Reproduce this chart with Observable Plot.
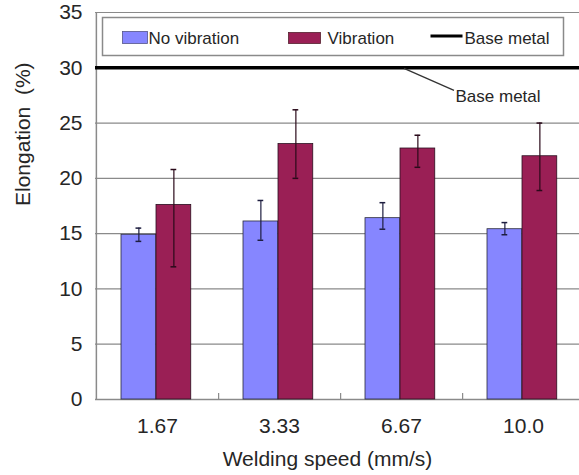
<!DOCTYPE html>
<html>
<head>
<meta charset="utf-8">
<script src="https://cdn.jsdelivr.net/npm/d3@7"></script>
<script src="https://cdn.jsdelivr.net/npm/@observablehq/plot@0.6"></script>
<style>
  html, body { margin: 0; padding: 0; background: #fff; }
  #chart svg { display: block; }
</style>
</head>
<body>
<div id="chart"></div>
<script>
const speeds = ["1.67", "3.33", "6.67", "10.0"];
const noVibration = [14.9, 16.1, 16.4, 15.4];
const noVibLow = [14.3, 14.4, 15.4, 14.9];
const noVibHigh = [15.5, 18.0, 17.8, 16.0];
const vibration = [17.6, 23.1, 22.7, 22.0];
const vibLow = [12.0, 20.0, 21.0, 18.9];
const vibHigh = [20.8, 26.2, 23.9, 25.0];
const baseMetal = 30;
const yTicks = [0, 5, 10, 15, 20, 25, 30, 35];
const seriesNames = ["No vibration", "Vibration", "Base metal"];

const blue = "#8686ff";
const maroon = "#9a1f55";

const noVibData = speeds.map((s, i) => ({speed: s, value: noVibration[i], lo: noVibLow[i], hi: noVibHigh[i]}));
const vibData = speeds.map((s, i) => ({speed: s, value: vibration[i], lo: vibLow[i], hi: vibHigh[i]}));

const W = 579, H = 475;
const bandW = (584 - 95) / 4;
const ink = "#262626";

const plot = Plot.plot({
  width: W,
  height: H,
  marginLeft: 95,
  marginRight: 0,
  marginTop: 12,
  marginBottom: 76,
  style: {fontFamily: "'Liberation Sans', Arial, sans-serif", fontSize: "16px", color: ink, background: "#fff"},
  x: {domain: speeds, range: [95, 584], padding: 0, axis: null},
  y: {domain: [0, 35], axis: null},
  marks: [
    Plot.ruleY(yTicks.filter(t => t > 0 && t !== baseMetal), {stroke: "#8a8a8a", strokeWidth: 1.2}),
    Plot.ruleX([0], {x: () => speeds[0], dx: -bandW / 2, y1: 0, y2: 35, stroke: "#8a8a8a", strokeWidth: 1.5}),
    Plot.ruleY([0], {stroke: "#8a8a8a", strokeWidth: 1.5}),
    Plot.ruleX(speeds.slice(0, 3), {x: d => d, dx: bandW / 2, y1: 0, y2: 0.55, stroke: "#8a8a8a", strokeWidth: 1.2}),
    Plot.barY(noVibData, {x: "speed", y: "value", fill: blue, stroke: "#2a2a3a", strokeWidth: 0.8, insetLeft: 25, insetRight: bandW - 60}),
    Plot.barY(vibData, {x: "speed", y: "value", fill: maroon, stroke: "#2a1020", strokeWidth: 0.8, insetLeft: 60, insetRight: bandW - 95}),
    Plot.ruleX(noVibData, {x: "speed", y1: "lo", y2: "hi", dx: 42.5 - bandW / 2, stroke: "#1e1e40", strokeWidth: 1.2}),
    Plot.ruleX(vibData, {x: "speed", y1: "lo", y2: "hi", dx: 77.5 - bandW / 2, stroke: "#2a0a1a", strokeWidth: 1.2}),
    Plot.tickY(noVibData, {x: "speed", y: "hi", insetLeft: 39.5, insetRight: bandW - 45.5, stroke: "#1e1e40", strokeWidth: 1.5}),
    Plot.tickY(noVibData, {x: "speed", y: "lo", insetLeft: 39.5, insetRight: bandW - 45.5, stroke: "#1e1e40", strokeWidth: 1.5}),
    Plot.tickY(vibData, {x: "speed", y: "hi", insetLeft: 74.5, insetRight: bandW - 80.5, stroke: "#2a0a1a", strokeWidth: 1.5}),
    Plot.tickY(vibData, {x: "speed", y: "lo", insetLeft: 74.5, insetRight: bandW - 80.5, stroke: "#2a0a1a", strokeWidth: 1.5}),
    Plot.ruleY([baseMetal], {stroke: "#000", strokeWidth: 3.5}),
    Plot.ruleY([35], {stroke: "#8a8a8a", strokeWidth: 1.2}),
    // y tick labels
    Plot.text(yTicks, {y: d => d, frameAnchor: "left", dx: -13, textAnchor: "end", text: d => String(d), fontSize: 21, fill: ink}),
    // x tick labels
    Plot.text(speeds, {x: d => d, frameAnchor: "bottom", dy: 33, text: d => d, fontSize: 21, fill: ink}),
    // axis titles
    Plot.text(["Welding speed (mm/s)"], {frameAnchor: "bottom", dx: -10, dy: 66, fontSize: 21, fill: ink}),
    Plot.text(["Elongation  (%)"], {frameAnchor: "left", dx: -72, rotate: -90, fontSize: 21, fill: ink}),
    // legend box
    Plot.frame({fill: "#fff", stroke: "#8a8a8a", strokeWidth: 1.5, insetLeft: 7, insetRight: 16, insetTop: 5, insetBottom: 344}),
    Plot.frame({fill: blue, stroke: "#55558a", strokeWidth: 0.8, insetLeft: 27, insetRight: 432, insetTop: 19, insetBottom: 356}),
    Plot.frame({fill: maroon, stroke: "#55202f", strokeWidth: 0.8, insetLeft: 193, insetRight: 259, insetTop: 20, insetBottom: 356}),
    Plot.frame({fill: "#000", insetLeft: 335, insetRight: 117, insetTop: 22, insetBottom: 362}),
    Plot.text([seriesNames[0]], {frameAnchor: "top-left", dx: 53, dy: 19, textAnchor: "start", fontSize: 17, fill: ink}),
    Plot.text([seriesNames[1]], {frameAnchor: "top-left", dx: 232, dy: 19, textAnchor: "start", fontSize: 17, fill: ink}),
    Plot.text([seriesNames[2]], {frameAnchor: "top-left", dx: 369, dy: 19, textAnchor: "start", fontSize: 17, fill: ink}),
    // annotation text
    Plot.text(["Base metal"], {frameAnchor: "top-left", dx: 360, dy: 77, textAnchor: "start", fontSize: 17, fill: ink})
  ]
});

document.getElementById("chart").appendChild(plot);

// leader line for the annotation, positioned with Plot's own scales
const xs = plot.scale("x");
const ys = plot.scale("y");
const x0 = xs.apply("6.67") + 64;
const y0 = ys.apply(baseMetal);
d3.select(plot).append("line")
  .attr("x1", x0).attr("y1", y0 + 1)
  .attr("x2", x0 + 50).attr("y2", y0 + 23)
  .attr("stroke", "#333").attr("stroke-width", 1.3);
</script>
</body>
</html>
